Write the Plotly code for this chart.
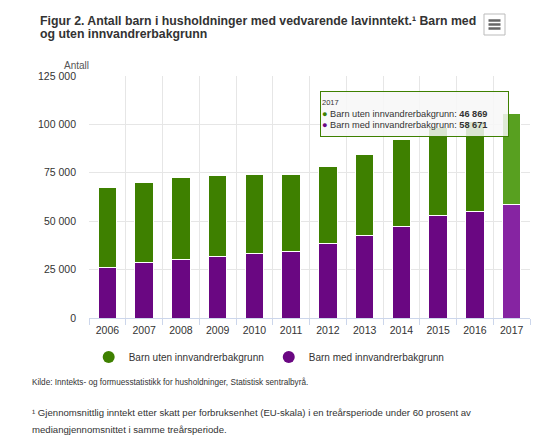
import plotly.graph_objects as go

years = ["2006", "2007", "2008", "2009", "2010", "2011", "2012", "2013", "2014", "2015", "2016", "2017"]
uten = [41000, 41200, 42600, 41500, 40700, 39500, 39800, 41900, 45000, 45400, 46100, 46869]
med = [26200, 28600, 30200, 31900, 33300, 34500, 38300, 42400, 47200, 52800, 55200, 58671]
y_ticks = [0, 25000, 50000, 75000, 100000, 125000]
name_uten = "Barn uten innvandrerbakgrunn"
name_med = "Barn med innvandrerbakgrunn"
hover_year = "2017"

GREEN, GREEN_H = "#3e8000", "#58a020"
PURPLE, PURPLE_H = "#6a0782", "#8624a2"

def cols(base, hi):
    return [hi if y == hover_year else base for y in years]

def fmt(v):
    return f"{v:,}".replace(",", " ")

W, H = 555, 446
L, R, T, B = 89, 25, 76, 128
pw, ph = W - L - R, H - T - B

def px(x):
    return (x - L) / pw

def py(y):
    return (H - B - y) / ph

fig = go.Figure()
fig.add_trace(go.Bar(x=years, y=med, name=name_med, showlegend=False,
                     marker=dict(color=cols(PURPLE, PURPLE_H), line=dict(color="#ffffff", width=1)),
                     width=0.5))
fig.add_trace(go.Bar(x=years, y=uten, name=name_uten, showlegend=False,
                     marker=dict(color=cols(GREEN, GREEN_H), line=dict(color="#ffffff", width=1)),
                     width=0.5))
# legend entries (circle symbols)
fig.add_trace(go.Scatter(x=[None], y=[None], mode="markers", name=name_uten,
                         marker=dict(color=GREEN, size=12, symbol="circle")))
fig.add_trace(go.Scatter(x=[None], y=[None], mode="markers", name=name_med,
                         marker=dict(color=PURPLE, size=12, symbol="circle")))

i = years.index(hover_year)
tip = (f"<span style='font-size:7.5px'>{hover_year}</span><br>"
       f"<span style='color:{GREEN}'>●</span> {name_uten}: <b>{fmt(uten[i])}</b><br>"
       f"<span style='color:{PURPLE}'>●</span> {name_med}: <b>{fmt(med[i])}</b>")

annotations = [
    dict(xref="paper", yref="paper", x=px(38), y=py(21.3), xanchor="left", yanchor="middle",
         text="<b>Figur 2. Antall barn i husholdninger med vedvarende lavinntekt.¹ Barn med</b>",
         showarrow=False, font=dict(size=12.3, color="#333333")),
    dict(xref="paper", yref="paper", x=px(38), y=py(34.2), xanchor="left", yanchor="middle",
         text="<b>og uten innvandrerbakgrunn</b>",
         showarrow=False, font=dict(size=12.3, color="#333333")),
    dict(xref="paper", yref="paper", x=px(76), y=py(65), xanchor="center", yanchor="middle",
         text="Antall", showarrow=False, font=dict(size=10, color="#555555")),
    dict(xref="paper", yref="paper", x=px(30), y=py(382), xanchor="left", yanchor="middle",
         text="Kilde: Inntekts- og formuesstatistikk for husholdninger, Statistisk sentralbyrå.",
         showarrow=False, font=dict(size=8.2, color="#333333")),
    dict(xref="paper", yref="paper", x=px(30), y=py(412), xanchor="left", yanchor="middle",
         text="¹ Gjennomsnittlig inntekt etter skatt per forbruksenhet (EU-skala) i en treårsperiode under 60 prosent av",
         showarrow=False, font=dict(size=9.6, color="#333333")),
    dict(xref="paper", yref="paper", x=px(30), y=py(429), xanchor="left", yanchor="middle",
         text="mediangjennomsnittet i samme treårsperiode.",
         showarrow=False, font=dict(size=9.6, color="#333333")),
    dict(xref="paper", yref="paper", x=px(320), y=py(91), xanchor="left", yanchor="top",
         text=tip, showarrow=False, align="left", width=185, height=42,
         bgcolor="rgba(247,247,247,0.85)", bordercolor=GREEN, borderwidth=1, borderpad=1,
         font=dict(size=9.2, color="#333333")),
]

shapes = [
    dict(type="rect", xref="paper", yref="paper", x0=px(484), x1=px(505), y0=py(14), y1=py(35),
         line=dict(color="#bbbbbb", width=1), fillcolor="#ffffff"),
]
for yy in (20.5, 24.5, 28.5):
    shapes.append(dict(type="line", xref="paper", yref="paper", x0=px(488.5), x1=px(500.5),
                       y0=py(yy), y1=py(yy), line=dict(color="#666666", width=2.5)))

fig.update_layout(
    width=W, height=H, barmode="stack", bargap=0.5,
    margin=dict(l=L, r=R, t=T, b=B, pad=0, autoexpand=False),
    paper_bgcolor="#ffffff", plot_bgcolor="#ffffff",
    font=dict(family="Liberation Sans, Arial, sans-serif", color="#333333"),
    separators=", ",
    xaxis=dict(type="category", tickson="boundaries", showgrid=True, gridcolor="#e6e6e6",
               showline=True, linecolor="#ccd6eb", ticks="outside", tickcolor="#ccd6eb",
               ticklen=6, tickfont=dict(size=10.5, color="#333333"), fixedrange=True,
               automargin=False, ticklabelstandoff=2),
    yaxis=dict(range=[0, 125000], tickvals=y_ticks, ticktext=[fmt(v) for v in y_ticks],
               showgrid=True, gridcolor="#e6e6e6", zeroline=False, showline=False,
               ticks="", tickfont=dict(size=10.5, color="#333333"), ticklabelstandoff=12,
               automargin=False),
    legend=dict(orientation="h", xref="container", yref="container", x=0.485, y=1 - 357 / H,
                xanchor="center", yanchor="middle", font=dict(size=10, color="#333333"),
                itemwidth=30, tracegroupgap=0, traceorder="normal"),
    annotations=annotations, shapes=shapes,
    hovermode=False,
)

fig.write_html("out.html", config={"displayModeBar": False},
               post_script="document.body.style.margin='0';document.body.style.overflow='hidden';")
